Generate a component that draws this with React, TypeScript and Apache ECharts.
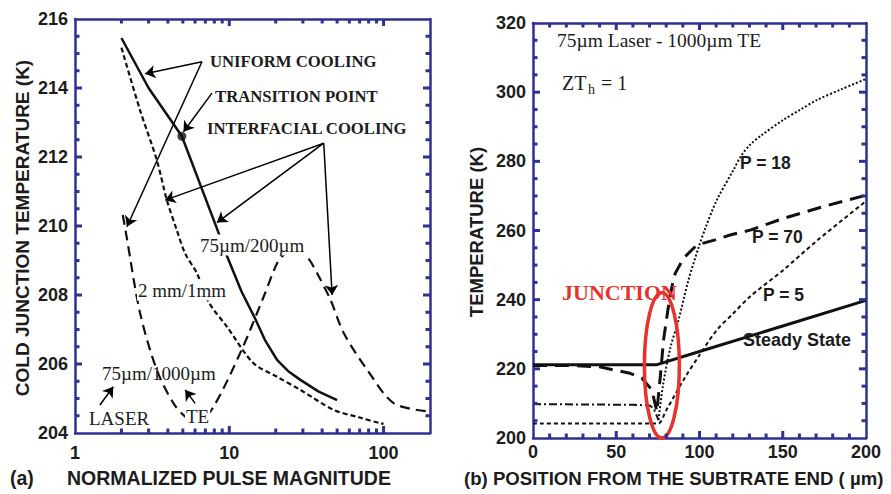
import React, { useEffect, useRef } from 'react';
import * as echarts from 'echarts';

const NAVY = '#2e3192';
const INK = '#1c1c1c';
const SANS = '"Liberation Sans", Arial, sans-serif';
const SERIF = '"Liberation Serif", "Times New Roman", serif';

// ---------- Panel (a): cold junction temperature vs normalized pulse magnitude ----------
const pulseRange = [1, 200];
const coldRange = [204, 216];
const pulseTickValues = [2, 3, 4, 5, 6, 7, 8, 9, 10, 20, 30, 40, 50, 60, 70, 80, 90, 100];
const pulseMajorTicks = [10, 100];
const pulseLabels = [1, 10, 100];
const coldTickValues = [204.5, 205, 205.5, 206, 206.5, 207, 207.5, 208, 208.5, 209, 209.5, 210, 210.5, 211, 211.5, 212, 212.5, 213, 213.5, 214, 214.5, 215, 215.5];
const coldMajorTicks = [206, 208, 210, 212, 214];

const uniformX = [2, 3, 4.93, 8.3, 9.66, 12, 14.7, 17, 20.4, 24, 28.9, 38, 50];
const uniformY = [215.45, 214, 212.6, 209.94, 209.13, 208.1, 207.32, 206.7, 206.12, 205.8, 205.54, 205.2, 204.95];

const mm2X = [2, 2.64, 3.39, 3.94, 4.57, 5.18, 6.17, 7.33, 9.66, 14.3, 20.4, 28.9, 47.5, 70, 95.6, 100];
const mm2Y = [215.17, 213.36, 211.91, 210.75, 209.88, 209.2, 208.63, 207.8, 207.08, 206.03, 205.63, 205.25, 204.67, 204.45, 204.28, 204.27];

const um1000X = [2.04, 2.16, 2.64, 3.39, 4.35, 5.31, 6.3, 7.9, 12, 16.7, 20.4, 22.5, 27, 32, 37.1, 45.3, 55.3, 78.4, 116.7, 200];
const um1000Y = [210.32, 209.69, 207.48, 205.83, 204.86, 204.43, 204.3, 204.76, 206.4, 207.95, 208.92, 209.16, 209.3, 209.1, 208.63, 207.86, 206.89, 205.83, 204.86, 204.62];

const transitionPoint = [4.93, 212.6];

// annotation arrows [fromX, fromY, toX, toY]
const arrowsA = [
  [6.65, 214.76, 2.85, 214.41],
  [6.65, 214.76, 2.17, 209.98],
  [7.72, 213.85, 5.05, 212.73],
  [40.96, 212.4, 3.84, 210.75],
  [40.96, 212.4, 8.32, 210.1],
  [40.96, 212.4, 46.4, 208.0],
  [1.45, 204.81, 1.77, 205.34],
  [6.01, 204.86, 5.18, 205.25],
];

// ---------- Panel (b): temperature vs position ----------
const positionRange = [0, 200];
const tempRange = [200, 320];
const positionTickValues = [10, 20, 30, 40, 50, 60, 70, 80, 90, 100, 110, 120, 130, 140, 150, 160, 170, 180, 190];
const positionMajorTicks = [50, 100, 150];
const tempTickValues = [205, 210, 215, 220, 225, 230, 235, 240, 245, 250, 255, 260, 265, 270, 275, 280, 285, 290, 295, 300, 305, 310, 315];
const tempMajorTicks = [220, 240, 260, 280, 300];

const steadyX = [0, 74.5, 100, 150, 200];
const steadyY = [221.2, 221.2, 225, 232.4, 239.8];

const p70X = [0, 20, 40, 48.4, 58.4, 65.4, 71.4, 74.4, 76.5, 78.4, 81, 83.4, 85.4, 90.4, 98.4, 109.4, 118.4, 130.4, 150.4, 175, 200];
const p70Y = [221, 221, 220.6, 219.7, 218.7, 217.3, 213.9, 207.6, 218, 228.3, 237, 243.7, 247.6, 252, 255.8, 257.3, 258.7, 260.1, 263.5, 267, 270.2];

const p18LeftX = [0, 30, 60, 70, 72.4, 75.4];
const p18LeftY = [209.8, 209.7, 209.6, 209.4, 208.6, 205.2];
const p18X = [75.4, 78, 82.4, 87.4, 93.4, 99.4, 103.4, 110.4, 120.4, 125, 130.4, 137.4, 150.4, 160.4, 170.4, 185, 200];
const p18Y = [205.2, 215, 225.9, 234.1, 245.7, 255, 260.5, 268.8, 277.5, 281.6, 284.8, 287.6, 292, 294.9, 297.7, 300.8, 303.8];

const p5X = [0, 40, 72.4, 75.4, 80, 90.4, 100, 110.4, 120, 130.4, 150.4, 170.4, 200];
const p5Y = [204.2, 204.2, 204.2, 204.2, 208, 216.8, 224, 231.2, 235.9, 240.9, 248.6, 257, 268.5];

const junctionCenter = [77.4, 221];
const junctionHalfSize = [10.5, 21];

const zip = (xs: number[], ys: number[]) => xs.map((x, i) => [x, ys[i]]);

function txt(x: number, y: number, text: string, font: any, extra: any = {}) {
  return {
    type: 'text',
    x,
    y,
    z: 100,
    ...extra,
    style: {
      text,
      fill: font.color || INK,
      font: `${font.weight || 'normal'} ${font.size}px ${font.family}`,
      align: font.align || 'left',
      verticalAlign: 'middle',
      ...(font.bg ? { backgroundColor: '#fff', padding: [1, 1] } : {}),
    },
  };
}

const serifB = { size: 16.7, weight: 'bold', family: SERIF };
const serifN = { size: 19, family: SERIF };
const sansB = { size: 17.5, weight: 'bold', family: SANS };
const titleF = { size: 19.5, weight: 'bold', family: SANS };

function textGraphics() {
  return [
    // panel (a) annotations
    txt(210, 61, 'UNIFORM COOLING', serifB),
    txt(215, 96, 'TRANSITION POINT', serifB),
    txt(207, 128, 'INTERFACIAL COOLING', serifB),
    txt(199, 245, '75µm/200µm', { ...serifN, bg: true }),
    txt(137, 290, '2 mm/1mm', { ...serifN, bg: true }),
    txt(102, 373, '75µm/1000µm', serifN),
    txt(89, 418, 'LASER', serifN),
    txt(185, 416, 'TE', { ...serifN, bg: true }),
    // panel (a) titles
    txt(22, 228, 'COLD JUNCTION TEMPERATURE (K)', { ...titleF, size: 19, align: 'center' }, { rotation: Math.PI / 2 }),
    txt(67, 478, 'NORMALIZED PULSE MAGNITUDE', titleF),
    txt(10, 478, '(a)', titleF),
    // panel (b) annotations
    txt(557, 40, '75µm Laser - 1000µm TE', { size: 19.5, family: SERIF }),
    txt(562, 83, 'ZT', { size: 20, family: SERIF }),
    txt(588, 89, 'h', { size: 14, family: SERIF }),
    txt(601, 83, '= 1', { size: 20, family: SERIF }),
    txt(740, 163, 'P = 18', sansB),
    txt(752, 237, 'P = 70', sansB),
    txt(763, 295, 'P = 5', sansB),
    txt(743, 340, 'Steady State', { ...sansB, size: 18 }),
    txt(562, 292, 'JUNCTION', { size: 22, weight: 'bold', family: SERIF, color: '#e8322c' }),
    // panel (b) titles
    txt(476, 232, 'TEMPERATURE (K)', { ...titleF, size: 18.5, align: 'center' }, { rotation: Math.PI / 2 }),
    txt(464, 478, '(b) POSITION FROM THE SUBTRATE END ( µm)', { ...titleF, size: 18.6 }),
  ];
}

// Inward tick marks on all four edges of a grid, positioned with the chart's own scales (convertToPixel).
function tickGraphics(
  chart: any, axisIdx: number,
  xTicks: number[], xMajors: number[], yTicks: number[], yMajors: number[],
  xr: number[], yr: number[],
) {
  const finder = { xAxisIndex: axisIdx, yAxisIndex: axisIdx };
  const W = 3;
  const out: any[] = [];
  const rect = (x: number, y: number, w: number, h: number) => ({
    type: 'rect', z: 50, silent: true, shape: { x, y, width: w, height: h }, style: { fill: NAVY },
  });
  xTicks.forEach((v) => {
    const len = xMajors.indexOf(v) >= 0 ? 7 : 4.5;
    const b = chart.convertToPixel(finder, [v, yr[0]]);
    const t = chart.convertToPixel(finder, [v, yr[1]]);
    if (b && t) {
      out.push(rect(b[0] - W / 2, b[1] - len, W, len));
      out.push(rect(t[0] - W / 2, t[1], W, len));
    }
  });
  yTicks.forEach((v) => {
    const len = yMajors.indexOf(v) >= 0 ? 7 : 4.5;
    const l = chart.convertToPixel(finder, [xr[0], v]);
    const r = chart.convertToPixel(finder, [xr[1], v]);
    if (l && r) {
      out.push(rect(l[0], l[1] - W / 2, len, W));
      out.push(rect(r[0] - len, r[1] - W / 2, len, W));
    }
  });
  return out;
}

function buildOption() {
  const mkLine = () => ({ show: true, onZero: false, lineStyle: { color: NAVY, width: 2.5 } });
  const labelStyle = { color: INK, fontSize: 18, fontWeight: 'bold', fontFamily: SANS };
  const noTick = () => ({ show: false });

  const logFormatter = (v: number) => {
    const r = Math.round(Math.log10(v));
    if (Math.abs(Math.log10(v) - r) < 1e-6 && pulseLabels.indexOf(Math.pow(10, r)) >= 0) return String(Math.pow(10, r));
    return '';
  };

  const arrowLine = {
    silent: true,
    animation: false,
    symbol: ['none', 'arrow'],
    symbolSize: 10,
    label: { show: false },
    lineStyle: { color: '#000', width: 1.5, type: 'solid' },
    emphasis: { disabled: true },
    data: arrowsA.map((a) => [{ coord: [a[0], a[1]] }, { coord: [a[2], a[3]] }]),
  };

  const soft = { smooth: 0.3 };

  return {
    animation: false,
    backgroundColor: '#fff',
    grid: [
      { left: 75, top: 19, width: 355, height: 414, containLabel: false },
      { left: 533, top: 23, width: 333, height: 415, containLabel: false },
    ],
    xAxis: [
      {
        gridIndex: 0, type: 'log', logBase: 10, min: pulseRange[0], max: pulseRange[1], position: 'bottom',
        axisLine: mkLine(), axisTick: noTick(), splitLine: { show: false },
        axisLabel: { ...labelStyle, margin: 11, formatter: logFormatter, showMaxLabel: false },
      },
      {
        gridIndex: 0, type: 'log', logBase: 10, min: pulseRange[0], max: pulseRange[1], position: 'top',
        axisLine: mkLine(), axisTick: noTick(), splitLine: { show: false }, axisLabel: { show: false },
      },
      {
        gridIndex: 1, type: 'value', min: positionRange[0], max: positionRange[1], interval: 50, position: 'bottom',
        axisLine: mkLine(), axisTick: noTick(), splitLine: { show: false },
        axisLabel: { ...labelStyle, margin: 5 },
      },
      {
        gridIndex: 1, type: 'value', min: positionRange[0], max: positionRange[1], interval: 50, position: 'top',
        axisLine: mkLine(), axisTick: noTick(), splitLine: { show: false }, axisLabel: { show: false },
      },
    ],
    yAxis: [
      {
        gridIndex: 0, type: 'value', min: coldRange[0], max: coldRange[1], interval: 2, position: 'left',
        axisLine: mkLine(), axisTick: noTick(), splitLine: { show: false },
        axisLabel: { ...labelStyle, margin: 7 },
      },
      {
        gridIndex: 0, type: 'value', min: coldRange[0], max: coldRange[1], interval: 2, position: 'right',
        axisLine: mkLine(), axisTick: noTick(), splitLine: { show: false }, axisLabel: { show: false },
      },
      {
        gridIndex: 1, type: 'value', min: tempRange[0], max: tempRange[1], interval: 20, position: 'left',
        axisLine: mkLine(), axisTick: noTick(), splitLine: { show: false },
        axisLabel: { ...labelStyle, margin: 7 },
      },
      {
        gridIndex: 1, type: 'value', min: tempRange[0], max: tempRange[1], interval: 20, position: 'right',
        axisLine: mkLine(), axisTick: noTick(), splitLine: { show: false }, axisLabel: { show: false },
      },
    ],
    series: [
      {
        name: '75µm/200µm', type: 'line', xAxisIndex: 0, yAxisIndex: 0, data: zip(uniformX, uniformY),
        showSymbol: false, symbol: 'none', lineStyle: { color: '#111', width: 2.5 },
        markLine: arrowLine,
      },
      {
        name: '2 mm/1mm', type: 'line', xAxisIndex: 0, yAxisIndex: 0, data: zip(mm2X, mm2Y),
        showSymbol: false, symbol: 'none', ...soft, lineStyle: { color: '#111', width: 2.2, type: [5, 3] },
      },
      {
        name: '75µm/1000µm', type: 'line', xAxisIndex: 0, yAxisIndex: 0, data: zip(um1000X, um1000Y),
        showSymbol: false, symbol: 'none', ...soft, lineStyle: { color: '#111', width: 2.2, type: [10, 6] },
      },
      {
        name: 'Transition point', type: 'scatter', xAxisIndex: 0, yAxisIndex: 0, data: [transitionPoint],
        symbolSize: 9, itemStyle: { color: '#111' }, z: 6,
      },
      // Panel (b)
      {
        name: 'Steady State', type: 'line', xAxisIndex: 2, yAxisIndex: 2, data: zip(steadyX, steadyY),
        showSymbol: false, symbol: 'none', lineStyle: { color: '#111', width: 3 },
      },
      {
        name: 'P = 70', type: 'line', xAxisIndex: 2, yAxisIndex: 2, data: zip(p70X, p70Y),
        showSymbol: false, symbol: 'none', lineStyle: { color: '#111', width: 3, type: [14, 8] },
      },
      {
        name: 'P = 18 (substrate)', type: 'line', xAxisIndex: 2, yAxisIndex: 2, data: zip(p18LeftX, p18LeftY),
        showSymbol: false, symbol: 'none', lineStyle: { color: '#111', width: 2, type: [8, 3, 2, 3] },
      },
      {
        name: 'P = 18', type: 'line', xAxisIndex: 2, yAxisIndex: 2, data: zip(p18X, p18Y),
        showSymbol: false, symbol: 'none', ...soft, lineStyle: { color: '#111', width: 2, type: [2, 2] },
      },
      {
        name: 'P = 5', type: 'line', xAxisIndex: 2, yAxisIndex: 2, data: zip(p5X, p5Y),
        showSymbol: false, symbol: 'none', ...soft, lineStyle: { color: '#111', width: 2, type: [4, 3] },
      },
      {
        name: 'Junction', type: 'custom', xAxisIndex: 2, yAxisIndex: 2, silent: true, clip: false, z: 8,
        data: [junctionCenter],
        renderItem: (params: any, api: any) => {
          const c = api.coord([api.value(0), api.value(1)]);
          const s = api.size(junctionHalfSize);
          return {
            type: 'ellipse',
            shape: { cx: c[0], cy: c[1], rx: s[0], ry: s[1] },
            style: { fill: 'none', stroke: '#e8322c', lineWidth: 3.5 },
          };
        },
      },
    ],
    graphic: textGraphics(),
  };
}

export default function App() {
  const ref = useRef<HTMLDivElement>(null);
  useEffect(() => {
    const chart = echarts.init(ref.current as HTMLDivElement, null, { renderer: 'svg' });
    chart.setOption(buildOption() as any);
    try {
      const ticks = [
        ...tickGraphics(chart, 0, pulseTickValues, pulseMajorTicks, coldTickValues, coldMajorTicks, pulseRange, coldRange),
        ...tickGraphics(chart, 2, positionTickValues, positionMajorTicks, tempTickValues, tempMajorTicks, positionRange, tempRange),
      ];
      chart.setOption({ graphic: [...textGraphics(), ...ticks] } as any);
    } catch (e) {
      // keep the chart even if tick placement fails
    }
    return () => chart.dispose();
  }, []);
  return (
    <div
      ref={ref}
      style={{ position: 'fixed', left: 0, top: 0, width: 891, height: 494, background: '#fff' }}
    />
  );
}
